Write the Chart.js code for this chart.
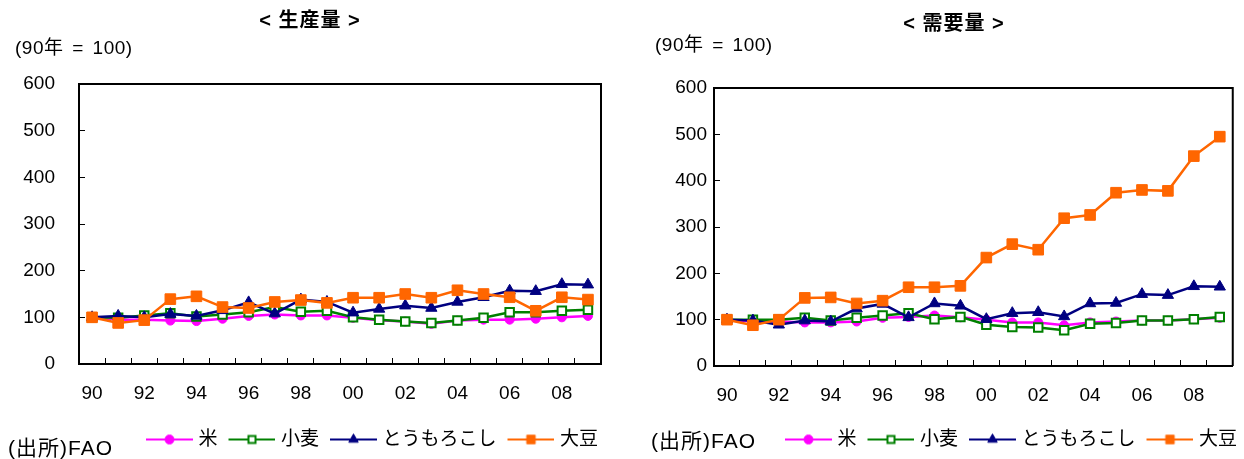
<!DOCTYPE html>
<html>
<head>
<meta charset="utf-8">
<script src="https://cdn.jsdelivr.net/npm/chart.js@4.4.1/dist/chart.umd.min.js"></script>
<style>
  html, body { margin: 0; padding: 0; background: #fff; }
  #wrap { position: relative; width: 1244px; height: 459px; overflow: hidden;
          font-family: 'Liberation Sans', 'Noto Sans CJK JP', sans-serif; color: #000; }
  .pane { position: absolute; top: 0; }
  .txt { position: absolute; white-space: nowrap; }
  .ttl { font-weight: bold; font-size: 20px; line-height: 20px; letter-spacing: 1px; transform: translateX(-50%); }
  .unit { font-size: 19px; line-height: 19px; letter-spacing: 0.5px; word-spacing: 3px; }
  .src { font-size: 21px; line-height: 21px; letter-spacing: 1px; }
</style>
</head>
<body>
<div id="wrap">
  <div class="pane" style="left:0"><canvas id="prod" width="620" height="459"></canvas></div>
  <div class="pane" style="left:620px"><canvas id="dem" width="624" height="459"></canvas></div>

  <div class="txt ttl" style="left:310px; top:10px">&lt; 生産量 &gt;</div>
  <div class="txt ttl" style="left:954px; top:13px">&lt; 需要量 &gt;</div>
  <div class="txt unit" style="left:15px; top:38px">(90年 = 100)</div>
  <div class="txt unit" style="left:655px; top:35px">(90年 = 100)</div>
  <div class="txt src" style="left:8px; top:437px">(出所)FAO</div>
  <div class="txt src" style="left:651px; top:430px">(出所)FAO</div>
</div>

<script>
// Years on the category axis (1990-2009)
const years = ['90','91','92','93','94','95','96','97','98','99',
               '00','01','02','03','04','05','06','07','08','09'];
const seriesNames = ['米', '小麦', 'とうもろこし', '大豆'];
const yTicks = [0, 100, 200, 300, 400, 500, 600];

// World production index (1990 = 100)
const riceProd  = [100, 95, 95, 93, 92, 97,103,106,104,104, 99, 94, 91, 86, 93, 95, 95, 97,100,103];
const wheatProd = [100, 99,104,109,102,106,111,122,112,114,100, 95, 91, 88, 93, 99,111,111,114,116];
const cornProd  = [100,103,100,107,103,115,132,108,138,133,110,118,125,120,133,143,157,156,171,170];
const soyProd   = [100, 88, 94,139,145,122,120,133,137,131,142,142,150,142,158,150,143,114,143,138];

// World demand index (1990 = 100)
const riceDem  = [100, 96, 96, 94, 94, 96,104,106,109,105,100, 94, 94, 88, 94, 96, 98, 98,101,104];
const wheatDem = [100,100,100,104, 98,104,109,114,101,106, 89, 84, 83, 77, 91, 93, 98, 98,101,106];
const cornDem  = [100, 98, 89, 98, 96,124,134,105,135,130,101,114,116,107,135,136,155,153,172,171];
const soyDem   = [100, 88,100,147,148,135,141,170,170,173,234,263,251,319,326,374,380,378,453,495];

// Line / marker styling per series
const seriesStyle = [
  { color: '#FF00FF', point: 'circle',   radius: 4.5, fill: '#FF00FF', border: 1, lr: 4.5 },
  { color: '#008000', point: 'rect',     radius: 6,   fill: '#FFFFFF', border: 2, lr: 5 },
  { color: '#000080', point: 'triangle', radius: 6.5, fill: '#000080', border: 1, lr: 5.5 },
  { color: '#FF6600', point: 'rect',     radius: 7.5, fill: '#FF6600', border: 1, lr: 6 }
];

Chart.defaults.font.family = "'Liberation Sans', 'Noto Sans CJK JP', sans-serif";
Chart.defaults.font.size = 19;
Chart.defaults.color = '#000';

// Legend swatch: blank lead-in, then a 47px line with the series marker in its middle
const SWATCH_BOX = 51;
function legendIcon(s) {
  const c = document.createElement('canvas');
  c.width = 59; c.height = 16;
  const g = c.getContext('2d');
  g.strokeStyle = s.color; g.lineWidth = 2;
  g.beginPath(); g.moveTo(12, 8); g.lineTo(59, 8); g.stroke();
  g.fillStyle = s.fill; g.strokeStyle = s.color; g.lineWidth = s.border;
  Chart.helpers.drawPoint(g, { pointStyle: s.point, radius: s.lr, rotation: 0, borderWidth: s.border }, 35.5, 8);
  return c;
}
const icons = seriesStyle.map(legendIcon);

// Closes the plot frame on the top and right sides
const framePlugin = {
  id: 'frame',
  beforeDatasetsDraw(chart) {
    const { ctx, chartArea: a } = chart;
    ctx.save();
    ctx.strokeStyle = '#000'; ctx.lineWidth = 2;
    ctx.beginPath();
    ctx.moveTo(a.left, a.top); ctx.lineTo(a.right, a.top); ctx.lineTo(a.right, a.bottom);
    ctx.stroke();
    ctx.restore();
  }
};

function buildChart(id, values, lay) {
  const datasets = values.map((v, i) => {
    const s = seriesStyle[i];
    return {
      label: seriesNames[i],
      data: v,
      borderColor: s.color,
      backgroundColor: s.fill,
      borderWidth: 2.5,
      pointStyle: s.point,
      pointRadius: s.radius,
      pointBackgroundColor: s.fill,
      pointBorderColor: s.color,
      pointBorderWidth: s.border,
      tension: 0,
      order: values.length - 1 - i
    };
  });
  return new Chart(document.getElementById(id), {
    type: 'line',
    data: { labels: years, datasets },
    plugins: [framePlugin],
    options: {
      responsive: false,
      animation: false,
      events: [],
      layout: { padding: { left: 0, top: lay.top, right: lay.right, bottom: lay.bottom } },
      plugins: {
        tooltip: { enabled: false },
        title: { display: false },
        legend: {
          position: 'bottom',
          align: 'end',
          labels: {
            usePointStyle: true,
            pointStyleWidth: SWATCH_BOX,
            padding: 3,
            font: { size: 19 },
            sort: (a, b) => a.datasetIndex - b.datasetIndex,
            generateLabels(chart) {
              const items = Chart.defaults.plugins.legend.labels.generateLabels(chart);
              items.forEach(it => { it.pointStyle = icons[it.datasetIndex]; });
              return items;
            }
          }
        }
      },
      scales: {
        x: {
          type: 'category',
          offset: true,
          grid: { offset: true, drawOnChartArea: false, drawTicks: true, tickLength: -6, color: '#000', lineWidth: 1 },
          border: { display: true, color: '#000', width: 2 },
          ticks: {
            autoSkip: false, maxRotation: 0, padding: lay.xPad,
            callback: (val, idx) => (idx % 2 === 0 ? years[idx] : '')
          },
          afterFit: s => { s.height = lay.xHeight; }
        },
        y: {
          min: 0, max: 600,
          afterBuildTicks: s => { s.ticks = yTicks.map(v => ({ value: v })); },
          grid: { drawOnChartArea: false, drawTicks: true, tickLength: -6, color: '#000', lineWidth: 1 },
          border: { display: true, color: '#000', width: 2 },
          ticks: { padding: lay.yPad },
          afterFit: s => { s.width = lay.yWidth; }
        }
      }
    }
  });
}

buildChart('prod', [riceProd, wheatProd, cornProd, soyProd],
  { top: 84, right: 19, bottom: 0, yWidth: 79, yPad: 30, xHeight: 63, xPad: 24 });
buildChart('dem', [riceDem, wheatDem, cornDem, soyDem],
  { top: 88, right: 4, bottom: 0, yWidth: 94, yPad: 13, xHeight: 61, xPad: 24 });
</script>
</body>
</html>
